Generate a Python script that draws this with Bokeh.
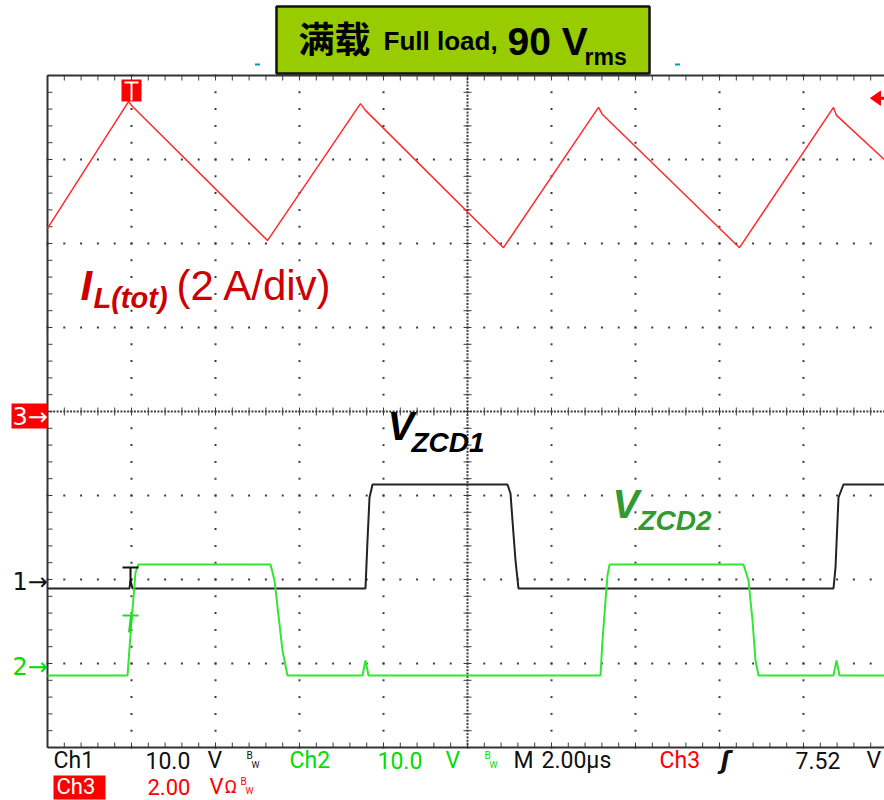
import numpy as np
from bokeh.plotting import figure
from bokeh.models import Range1d
from bokeh.core.properties import value
from bokeh.embed import file_html
from bokeh.resources import INLINE

# ---------------- scope settings ----------------
time_per_div = 2.0      # µs / div
n_hdiv, n_vdiv = 10, 8
ch1_scale, ch1_offset = 10.0, -2.0   # V/div, div
ch2_scale, ch2_offset = 10.0, -3.0
ch3_scale, ch3_offset = 2.0, 0.0     # A/div
trig_time = 2.0
trig_level_div = 3.73

# ---------------- traces ----------------
il_t = [0.000, 1.929, 2.024, 5.238, 7.452, 7.571, 10.857, 13.119, 13.214,
        16.476, 18.714, 18.786, 20.0]
il_a = [4.36, 7.38, 7.26, 4.07, 7.33, 7.17, 3.90, 7.24, 7.07,
        3.90, 7.24, 7.05, 5.93]

zcd1_t = [0.0, 1.952, 1.976, 2.024, 7.571, 7.619, 7.667, 7.738, 10.952,
          11.024, 11.071, 11.143, 11.214, 18.714, 18.762, 18.833, 18.952, 20.0]
zcd1_v = [-1.07, -1.07, -0.12, -1.07, -1.07, 4.64, 9.76, 11.31, 11.31,
          10.24, 7.02, 2.26, -1.07, -1.07, 1.43, 9.76, 11.31, 11.31]

zcd2_t = [0.0, 1.905, 1.952, 2.0, 2.048, 2.095, 2.167,
          5.310, 5.405, 5.5, 5.595, 5.714,
          7.5, 7.571, 7.643,
          13.167, 13.214, 13.286, 13.333, 13.381,
          16.571, 16.690, 16.786, 16.857, 16.929,
          18.714, 18.786, 18.857, 20.0]
zcd2_v = [-1.43, -1.43, 1.79, 5.12, 7.86, 10.83, 11.79,
          11.79, 9.88, 5.71, 1.55, -1.43,
          -1.43, 0.36, -1.43,
          -1.43, 2.74, 7.50, 10.48, 11.79,
          11.79, 9.88, 5.12, 0.36, -1.43,
          -1.43, 0.36, -1.43, -1.43]

# ---------------- texts ----------------
title_cn = "满载"
title_en = "Full load,"
title_v = "90 V"
title_sub = "rms"
il_main, il_sub, il_unit = "I", "L(tot)", "(2 A/div)"
z1_main, z1_sub = "V", "ZCD1"
z2_main, z2_sub = "V", "ZCD2"

# ---------------- geometry helpers (page pixel -> data) ----------------
PX_T = time_per_div / 84.0      # µs per pixel
PX_D = 1.0 / 84.0               # div per pixel
def X(px):
    return (px - 47) * PX_T
def Y(py):
    return (411 - py) * PX_D

p = figure(width=884, height=800,
           x_range=Range1d(X(0), X(884)), y_range=Range1d(Y(800), Y(0)),
           x_axis_type=None, y_axis_type=None,
           toolbar_location=None, output_backend="svg",
           min_border=0, outline_line_color=None,
           background_fill_color="white", border_fill_color="white")

GRID = "#3c3c3c"
# ---------------- graticule ----------------
gx, gy = [], []
for i in range(1, n_hdiv + 1):
    if i == n_hdiv // 2:
        continue
    for k in range(-n_vdiv // 2 * 5, n_vdiv // 2 * 5 + 1):
        gx.append(i * time_per_div); gy.append(k / 5)
for j in range(-n_vdiv // 2 + 1, n_vdiv // 2):
    if j == 0:
        continue
    for k in range(0, n_hdiv * 5 + 1):
        gx.append(k * time_per_div / 5); gy.append(j)
# dense centre lines
for k in range(-n_vdiv // 2 * 25, n_vdiv // 2 * 25 + 1):
    gx.append(n_hdiv / 2 * time_per_div); gy.append(k / 25)
for k in range(0, n_hdiv * 25 + 1):
    gx.append(k * time_per_div / 25); gy.append(0)
p.scatter(gx, gy, marker="square", size=2, fill_color=GRID, line_color=None)

# centre-line ticks
tc = n_hdiv / 2 * time_per_div
ys = [k / 5 for k in range(-20, 21)]
p.segment(x0=[tc - 4 * PX_T] * len(ys), y0=ys, x1=[tc + 4 * PX_T] * len(ys), y1=ys,
          line_color=GRID, line_width=1)
xs = [k * time_per_div / 5 for k in range(0, 51)]
p.segment(x0=xs, y0=[-4 * PX_D] * len(xs), x1=xs, y1=[4 * PX_D] * len(xs),
          line_color=GRID, line_width=1)
# border ticks
p.segment(x0=[0] * len(ys), y0=ys, x1=[5 * PX_T] * len(ys), y1=ys, line_color=GRID, line_width=1)
p.segment(x0=xs, y0=[4] * len(xs), x1=xs, y1=[4 - 5 * PX_D] * len(xs), line_color=GRID, line_width=1)
p.segment(x0=xs, y0=[-4] * len(xs), x1=xs, y1=[-4 + 5 * PX_D] * len(xs), line_color=GRID, line_width=1)
# borders
p.line([0, 0], [-4, 4], line_color="#333333", line_width=2)
p.line([0, 20.5], [4, 4], line_color="#333333", line_width=2)
p.line([0, 20.5], [-4, -4], line_color="#333333", line_width=2)

# small cyan marks above graticule
for tt in (5.0, 10.0, 15.0):
    p.line([tt - 2.5 * PX_T, tt + 2.5 * PX_T], [Y(64), Y(64)], line_color="#00a0a8", line_width=2)

# ---------------- traces ----------------
p.line(il_t, [a / ch3_scale + ch3_offset for a in il_a], line_color="#ff2a2a", line_width=1.5)
p.line(zcd1_t, [v / ch1_scale + ch1_offset for v in zcd1_v], line_color="#222222", line_width=2)
p.line(zcd2_t, [v / ch2_scale + ch2_offset for v in zcd2_v], line_color="#33e633", line_width=2)

def txt(x, yb, s, size, color, font="Liberation Sans", style="normal", mid=None):
    """x: left edge; yb: text baseline (page px); drawn with a middle anchor."""
    ym = mid if mid is not None else yb - 0.355 * size
    p.text(x=[X(x)], y=[Y(ym)], text=[s], text_font=value(font),
           text_font_size=value(f"{size}px"), text_font_style=style,
           text_color=color, text_align="left", text_baseline="middle")

# ---------------- channel markers ----------------
# trigger position marker (top)
p.quad(left=[trig_time - 10 * PX_T], right=[trig_time + 10 * PX_T],
       top=[Y(79)], bottom=[Y(101)], fill_color="#ff0000", line_color=None)
p.segment(x0=[trig_time - 7 * PX_T], y0=[Y(82)], x1=[trig_time + 7 * PX_T], y1=[Y(82)],
          line_color="white", line_width=2)
p.segment(x0=[trig_time], y0=[Y(82)], x1=[trig_time], y1=[Y(100)],
          line_color="white", line_width=2)
# trigger level arrow (right)
p.patch([X(870), X(880), X(880)], [trig_level_div, trig_level_div + 7 * PX_D, trig_level_div - 7 * PX_D],
        fill_color="#ff0000", line_color="#ff0000")
p.line([X(878), X(884)], [trig_level_div, trig_level_div], line_color="#ff0000", line_width=3)
# ch3 ground marker
p.quad(left=[X(11)], right=[X(47)], top=[Y(403)], bottom=[Y(428)], fill_color="#ff0000", line_color=None)
txt(12, 0, "3→", 24, "white", font="DejaVu Sans", mid=416)
txt(12, 0, "1→", 24, "#111111", font="DejaVu Sans", mid=581)
txt(12, 0, "2→", 24, "#00dd00", font="DejaVu Sans", mid=666)
# ch1/ch2 trigger marks
p.segment(x0=[X(122)], y0=[Y(567)], x1=[X(138)], y1=[Y(567)], line_color="#111111", line_width=2)
p.segment(x0=[X(130)], y0=[Y(567)], x1=[X(130)], y1=[Y(585)], line_color="#111111", line_width=2)
p.segment(x0=[X(122)], y0=[Y(615)], x1=[X(138)], y1=[Y(615)], line_color="#22dd22", line_width=2)
p.segment(x0=[X(131)], y0=[Y(615)], x1=[X(129)], y1=[Y(632)], line_color="#22dd22", line_width=3)

# ---------------- title box ----------------
p.quad(left=[X(276)], right=[X(649)], top=[Y(6)], bottom=[Y(73)],
       fill_color="#99cc00", line_color="#111111", line_width=2.5)
txt(298, 0, title_cn, 36, "black", font="Noto Sans CJK SC", style="bold", mid=36)
txt(383, 50, title_en, 26, "black", style="bold")
txt(507, 55, title_v, 39, "black", style="bold")
txt(584, 65, title_sub, 23, "black", style="bold")

# ---------------- trace labels ----------------
IL_COL = "#cc0000"
txt(80, 300, il_main, 42, IL_COL, style="bold italic")
txt(93, 308, il_sub, 29, IL_COL, style="bold italic")
txt(176, 300, il_unit, 42, IL_COL)
txt(387, 440, z1_main, 40, "black", style="bold italic")
txt(411, 452, z1_sub, 28, "black", style="bold italic")
Z2_COL = "#339933"
txt(612, 518, z2_main, 40, Z2_COL, style="bold italic")
txt(638, 530, z2_sub, 28, Z2_COL, style="bold italic")

# ---------------- readout ----------------
RF = "Roboto"
BLK, GRN, RED = "#111111", "#00dd00", "#ff0000"
row1 = [(53, "Ch1", BLK), (145, "10.0", BLK), (207, "V", BLK),
        (289, "Ch2", GRN), (377, "10.0", GRN), (445, "V", GRN),
        (513, "M", BLK), (541, "2.00µs", BLK), (659, "Ch3", RED),
        (795, "7.52", BLK), (866, "V", BLK)]
for x, s, c in row1:
    txt(x, 0, s, 23, c, font=RF, mid=760)
txt(720, 0, "ʃ", 24, BLK, font="DejaVu Sans", style="bold italic", mid=760)
for x, c in ((246, BLK), (484, GRN)):
    txt(x, 0, "B", 10, c, font=RF, mid=755)
    txt(x + 5, 0, "W", 9, c, font=RF, mid=764)
p.quad(left=[X(53)], right=[X(105)], top=[Y(775)], bottom=[Y(799)], fill_color=RED, line_color=None)
txt(56, 0, "Ch3", 22, "white", font=RF, mid=786)
txt(147, 0, "2.00", 22, RED, font=RF, mid=786)
txt(209, 0, "V", 22, RED, font=RF, mid=786)
txt(224, 0, "Ω", 19, RED, font=RF, mid=786)
txt(240, 0, "B", 10, RED, font=RF, mid=781)
txt(245, 0, "W", 9, RED, font=RF, mid=790)

open("out.html", "w").write(file_html(p, INLINE))
